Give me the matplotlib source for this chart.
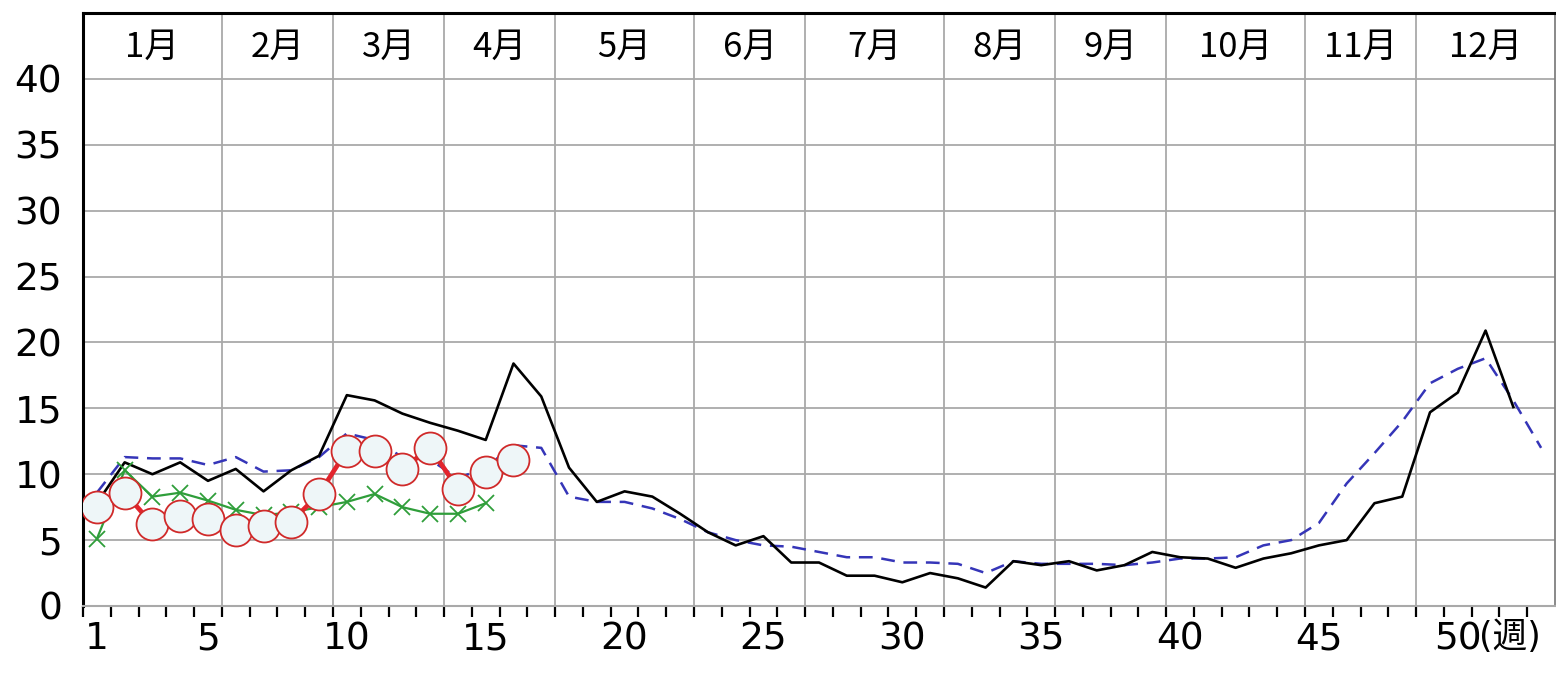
import matplotlib
matplotlib.use("Agg")
import matplotlib.pyplot as plt
from matplotlib import font_manager
import numpy as np

# weekly values
this_year = [7.5, 8.6, 6.2, 6.8, 6.6, 5.8, 6.1, 6.4, 8.5, 11.8, 11.8, 10.4, 12.0,
             8.9, 10.2, 11.1]
last_year = [5.1, 10.3, 8.3, 8.6, 8.0, 7.3, 6.9, 7.1, 7.5, 7.9, 8.5, 7.5, 7.0,
             7.0, 7.8]
black_line = [7.8, 10.9, 10.0, 10.9, 9.5, 10.4, 8.7, 10.3, 11.4, 16.0, 15.6, 14.6,
              13.9, 13.3, 12.6, 18.4, 15.9, 10.5, 7.9, 8.7, 8.3, 7.0, 5.6, 4.6,
              5.3, 3.3, 3.3, 2.3, 2.3, 1.8, 2.5, 2.1, 1.4, 3.4, 3.1, 3.4, 2.7,
              3.1, 4.1, 3.7, 3.6, 2.9, 3.6, 4.0, 4.6, 5.0, 7.8, 8.3, 14.7, 16.2,
              20.9, 15.1]
blue_line = [8.6, 11.3, 11.2, 11.2, 10.7, 11.3, 10.2, 10.3, 11.3, 13.1, 12.6, 11.3,
             11.1, 9.7, 10.5, 12.2, 12.0, 8.3, 7.9, 7.9, 7.4, 6.6, 5.6, 5.0, 4.6,
             4.5, 4.1, 3.7, 3.7, 3.3, 3.3, 3.2, 2.5, 3.4, 3.2, 3.2, 3.2, 3.1, 3.3,
             3.6, 3.6, 3.7, 4.6, 5.0, 6.3, 9.3, 11.6, 14.0, 16.9, 18.0, 18.8,
             15.6, 12.0]

months = ['1月', '2月', '3月', '4月', '5月', '6月', '7月', '8月', '9月', '10月',
          '11月', '12月']
month_edges = [0.5, 5.5, 9.5, 13.5, 17.5, 22.5, 26.5, 31.5, 35.5, 39.5, 44.5,
               48.5, 53.5]
week_labels = [1, 5, 10, 15, 20, 25, 30, 35, 40, 45, 50]

# pick a narrow font for the numbers if one is there
names = {f.name for f in font_manager.fontManager.ttflist}
num_font = 'DejaVu Sans'
for cand in ['Liberation Sans Narrow', 'DejaVu Sans Condensed']:
    if cand in names:
        num_font = cand
        break
jp_font = ['Noto Sans CJK JP', 'DejaVu Sans']

fig = plt.figure(figsize=(15.56, 6.74), dpi=100)
ax = fig.add_axes([83 / 1556, 68 / 674, 1472 / 1556, 593 / 674])

grid_c = '#a9a9a9'
for y in range(5, 45, 5):
    ax.axhline(y, color=grid_c, lw=1.3, zorder=1)
for e in month_edges[1:-1]:
    ax.axvline(e, color=grid_c, lw=1.3, zorder=1)

x52 = np.arange(1, len(black_line) + 1)
x53 = np.arange(1, len(blue_line) + 1)
ax.plot(x53, blue_line, color='#3535b8', lw=1.8, dashes=(5.5, 3.5), zorder=3)
ax.plot(x52, black_line, color='black', lw=1.9, zorder=4)
ax.plot(np.arange(1, len(last_year) + 1), last_year, color='#2f9e3a', lw=1.6,
        marker='x', ms=11, mew=1.3, zorder=5)
ax.plot(np.arange(1, len(this_year) + 1), this_year, color='#e2252d', lw=3.4,
        marker='o', ms=23, mec='#d02a2a', mew=1.3, mfc='#eef6f8', zorder=6)

ax.set_xlim(0.5, 53.5)
ax.set_ylim(0, 45)

for sp in ['left', 'top']:
    ax.spines[sp].set_linewidth(2.2)
    ax.spines[sp].set_color('black')
ax.spines['right'].set_color('#808080')
ax.spines['right'].set_linewidth(1.3)
ax.spines['bottom'].set_color(grid_c)
ax.spines['bottom'].set_linewidth(1.5)

ax.set_yticks(range(0, 45, 5))
ax.set_yticklabels([str(v) for v in range(0, 45, 5)], fontfamily=num_font,
                   fontsize=27)
ax.tick_params(axis='y', length=0, pad=15)

ax.set_xticks(week_labels)
ax.set_xticklabels([str(w) for w in week_labels], fontfamily=num_font,
                   fontsize=27)
ax.set_xticks(np.arange(0.5, 53, 1), minor=True)
ax.tick_params(axis='x', which='major', length=0, pad=11)
ax.tick_params(axis='x', which='minor', length=8, width=1.6, color='black',
               direction='out')

ax.annotate('(週)', xy=(50, 0), xycoords=('data', 'axes fraction'),
            xytext=(15, -10), textcoords='offset points', ha='left', va='top',
            fontsize=25, family=[num_font, 'Noto Sans CJK JP'])

for i, m in enumerate(months):
    xc = (month_edges[i] + month_edges[i + 1]) / 2
    ax.text(xc, 42.4, m, ha='center', va='center', fontsize=25,
            family=jp_font, zorder=7)

fig.savefig('out.png', dpi=100)
